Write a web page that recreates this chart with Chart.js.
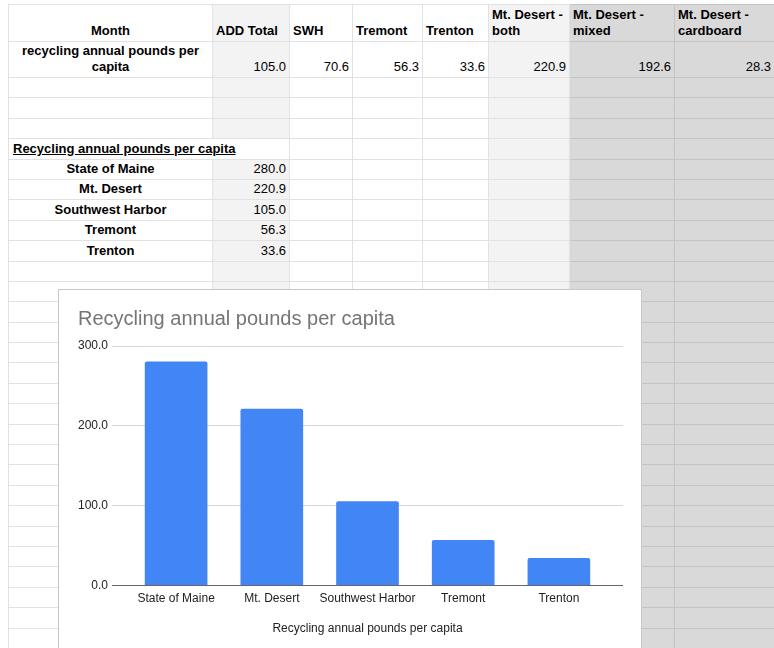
<!DOCTYPE html>
<html>
<head>
<meta charset="utf-8">
<script src="https://cdn.jsdelivr.net/npm/chart.js@4.4.1/dist/chart.umd.min.js"></script>
<style>
  html, body { margin: 0; padding: 0; width: 774px; height: 648px; overflow: hidden; background: #fff; }
  body { position: relative; font-family: "Liberation Sans", Arial, sans-serif; font-size: 13px; color: #000; }
  #sheet { position: absolute; left: 8px; top: 4px; border-collapse: collapse; table-layout: fixed; }
  #sheet td { border: 1px solid #e2e2e2; padding: 0 3px 2px 3px; vertical-align: bottom; overflow: visible; white-space: nowrap; line-height: 16px; }
  #sheet tr { height: 20.4px; }
  #sheet tr.hdr { height: 37px; }
  #sheet tr.r2 { height: 36px; }
  #sheet td.b { font-weight: bold; }
  #sheet td.c { text-align: center; }
  #sheet td.r { text-align: right; }
  #sheet td.wrap { white-space: pre-line; }
  #sheet td.lite { background: #f3f3f3; }
  #sheet td.dark { background: #d9d9d9; border-color: #c4c4c4; }
  #sheet td.u { text-decoration: underline; }
  #chartBox { position: absolute; left: 58px; top: 289px; width: 584px; height: 380px; background: #fff; border: 1px solid #c8c8c8; box-sizing: border-box; }
</style>
</head>
<body>
<table id="sheet"></table>
<div id="chartBox"><canvas id="chart"></canvas></div>
<script>
// spreadsheet content
const headers = ['Month', 'ADD Total', 'SWH', 'Tremont', 'Trenton', 'Mt. Desert -\nboth', 'Mt. Desert -\nmixed', 'Mt. Desert -\ncardboard'];
const rowLabel = 'recycling annual pounds per\ncapita';
const rowValues = [105.0, 70.6, 56.3, 33.6, 220.9, 192.6, 28.3];
const sectionTitle = 'Recycling annual pounds per capita';

// chart data
const towns = ['State of Maine', 'Mt. Desert', 'Southwest Harbor', 'Tremont', 'Trenton'];
const poundsPerCapita = [280.0, 220.9, 105.0, 56.3, 33.6];
const yTicks = [0, 100, 200, 300];

const colWidths = [204, 77, 63, 70, 66, 81, 105, 100];
const colShade = ['', 'lite', '', '', '', 'lite', 'dark', 'dark'];
const totalRows = 32;

const table = document.getElementById('sheet');
const cg = document.createElement('colgroup');
colWidths.forEach(w => { const c = document.createElement('col'); c.style.width = w + 'px'; cg.appendChild(c); });
table.appendChild(cg);
table.style.width = colWidths.reduce((a, b) => a + b, 0) + 'px';

function addRow(cls, cells) {
    const tr = document.createElement('tr');
    if (cls) tr.className = cls;
    cells.forEach((cell, i) => {
        const td = document.createElement('td');
        td.className = [colShade[i], cell.cls || ''].join(' ').trim();
        td.textContent = cell.text || '';
        if (cell.style) Object.assign(td.style, cell.style);
        tr.appendChild(td);
    });
    table.appendChild(tr);
}

// header row
addRow('hdr', headers.map((h, i) => ({ text: h, cls: 'b wrap' + (i === 0 ? ' c' : '') })));
// values row
addRow('r2', [{ text: rowLabel, cls: 'b c wrap' }].concat(rowValues.map(v => ({ text: v.toFixed(1), cls: 'r' }))));

for (let r = 2; r < totalRows; r++) {
    const cells = colWidths.map(() => ({}));
    if (r === 5) {
        cells[0] = { text: sectionTitle, cls: 'b u', style: { borderRight: 'none', paddingLeft: '4px' } };
        cells[1] = { style: { background: '#fff', borderLeft: 'none' } };
    } else if (r >= 6 && r < 6 + towns.length) {
        cells[0] = { text: towns[r - 6], cls: 'b c' };
        cells[1] = { text: poundsPerCapita[r - 6].toFixed(1), cls: 'r' };
    }
    addRow('', cells);
}

const fontFamily = '"Liberation Sans", Arial, sans-serif';

new Chart(document.getElementById('chart'), {
    type: 'bar',
    data: {
        datasets: [{
            label: sectionTitle,
            data: towns.map((t, i) => ({ x: i, y: poundsPerCapita[i] })),
            backgroundColor: '#4285f4',
            barThickness: 62,
            borderRadius: { topLeft: 2, topRight: 2 },
            borderSkipped: 'bottom'
        }]
    },
    options: {
        responsive: true,
        maintainAspectRatio: false,
        animation: false,
        layout: { padding: { left: 19, right: 18, top: 0, bottom: 28 } },
        plugins: {
            legend: { display: false },
            tooltip: { enabled: false },
            title: {
                display: true,
                text: sectionTitle,
                align: 'start',
                color: '#757575',
                font: { family: fontFamily, size: 20, weight: 'normal' },
                padding: { top: 17, bottom: 15 }
            }
        },
        scales: {
            x: {
                type: 'linear',
                offset: false,
                min: -0.67,
                max: towns.length - 1 + 0.67,
                afterBuildTicks: (scale) => { scale.ticks = towns.map((t, i) => ({ value: i })); },
                grid: { display: false, drawTicks: false },
                border: { display: false },
                ticks: {
                    autoSkip: false,
                    maxRotation: 0,
                    padding: 6,
                    color: '#222',
                    font: { family: fontFamily, size: 12 },
                    callback: (v) => towns[v]
                },
                title: {
                    display: true,
                    text: sectionTitle,
                    color: '#222',
                    font: { family: fontFamily, size: 12 },
                    padding: { top: 10, bottom: 4 }
                }
            },
            y: {
                min: 0,
                max: 300,
                afterBuildTicks: (scale) => { scale.ticks = yTicks.map(v => ({ value: v })); },
                afterFit: (scale) => { scale.width = 34; },
                grid: {
                    drawTicks: false,
                    color: (ctx) => ctx.tick && ctx.tick.value === 0 ? '#666' : '#d6d6d6',
                    lineWidth: 1
                },
                border: { display: false },
                ticks: {
                    padding: 4,
                    color: '#222',
                    font: { family: fontFamily, size: 12 },
                    callback: (v) => v.toFixed(1)
                }
            }
        }
    }
});
</script>
</body>
</html>
